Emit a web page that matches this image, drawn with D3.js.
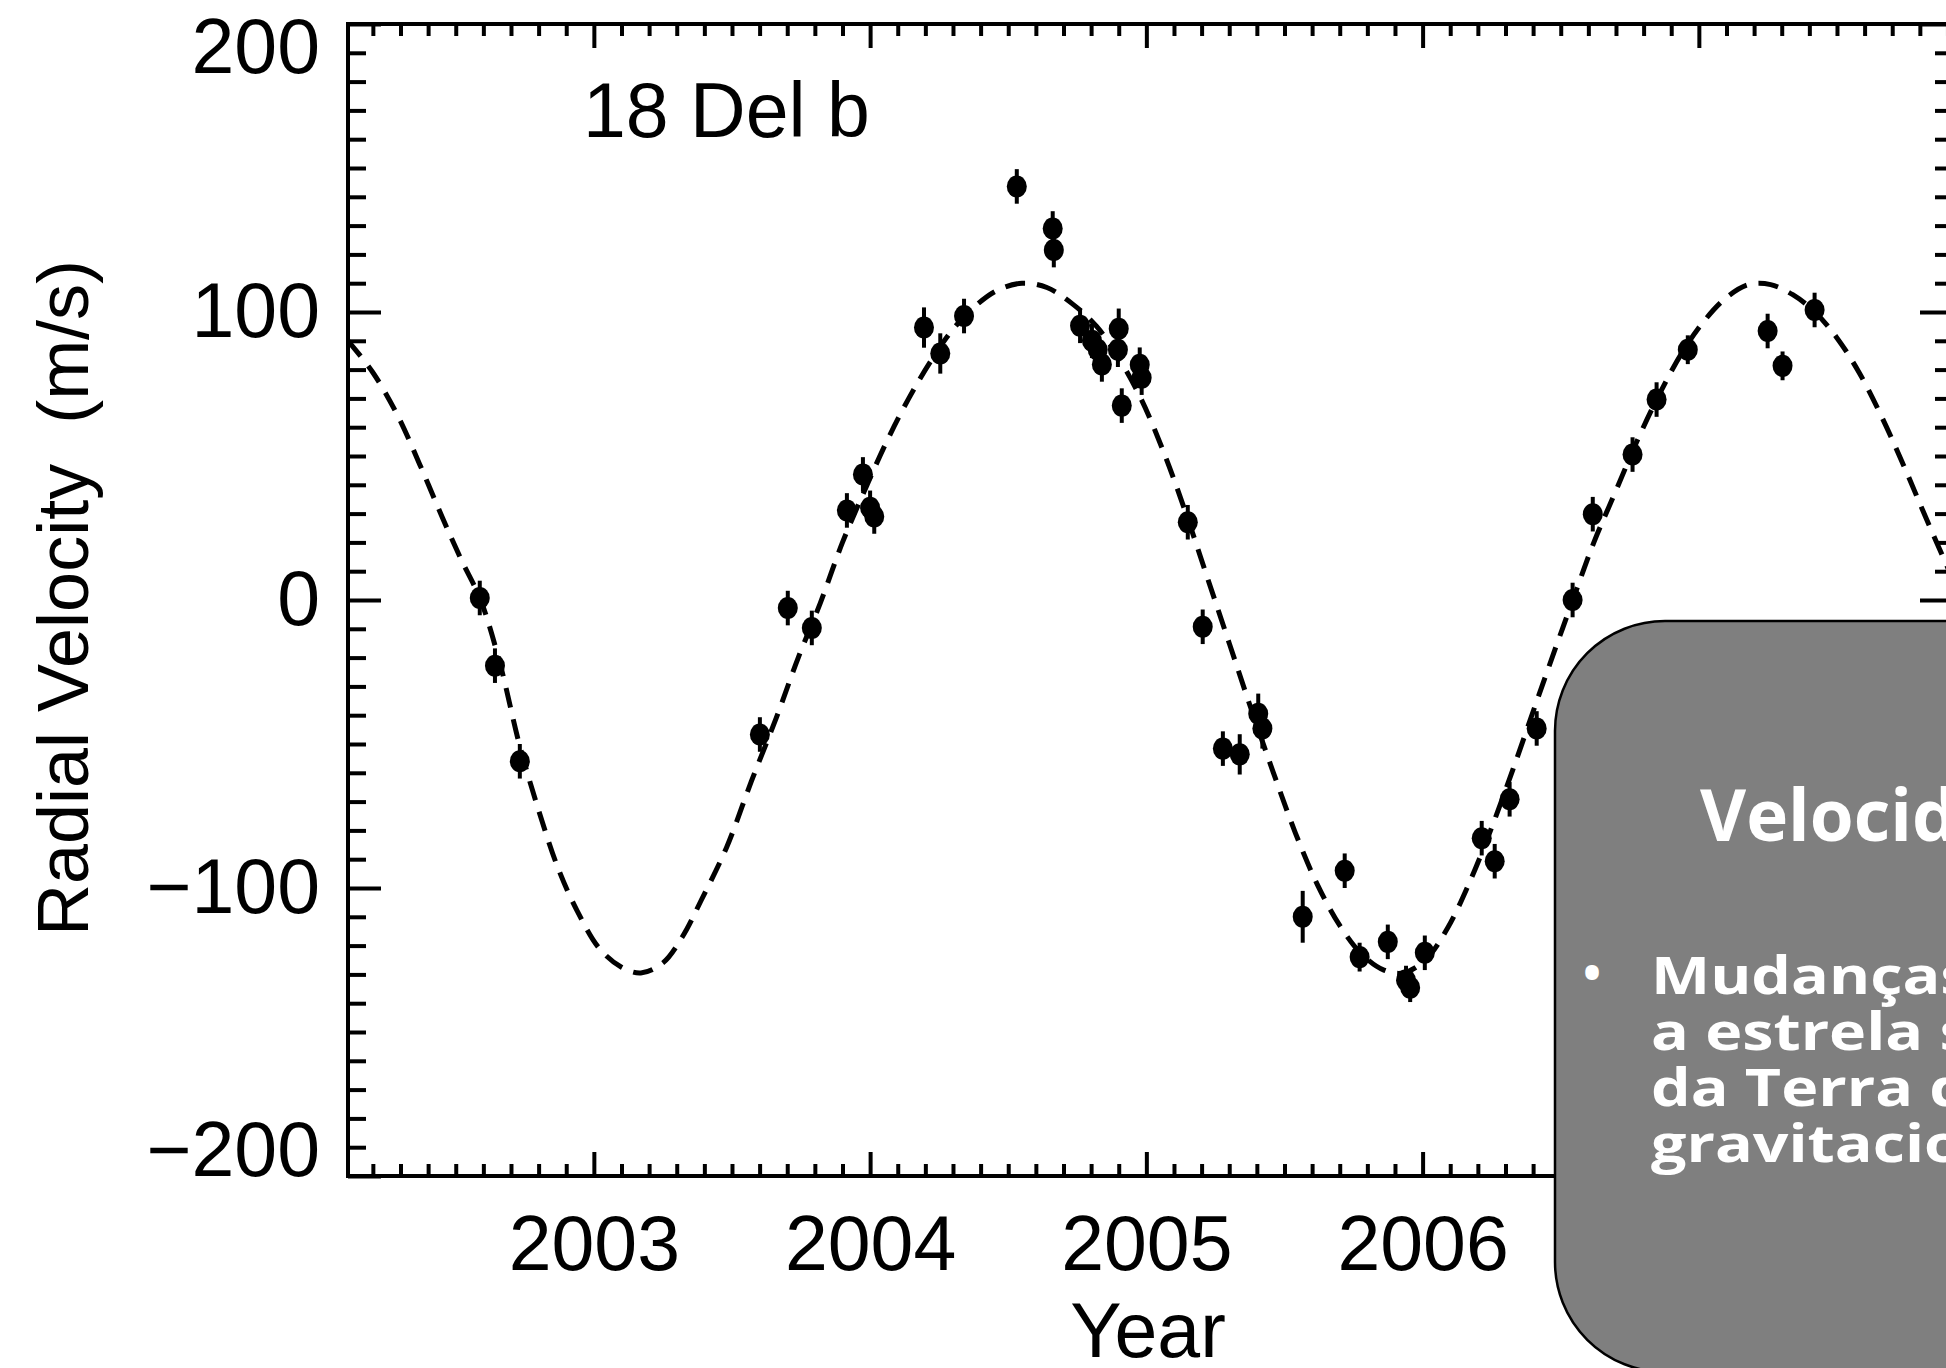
<!DOCTYPE html>
<html>
<head>
<meta charset="utf-8">
<script src="https://cdn.jsdelivr.net/npm/d3@7"></script>
<style>
  body { margin: 0; background: #fff; overflow: hidden; }
  svg { display: block; background: #fff; }
</style>
</head>
<body>
<svg width="1946" height="1368"></svg>
<script>
// measured radial velocities (m/s) of 18 Del
const years = [
  2002.587, 2002.642, 2002.732, 2003.601, 2003.702, 2003.789, 2003.916, 2003.974,
  2004.000, 2004.015, 2004.195, 2004.254, 2004.340, 2004.531, 2004.661, 2004.665,
  2004.760, 2004.803, 2004.824, 2004.839, 2004.900, 2004.897, 2004.911, 2004.976,
  2004.983, 2005.150, 2005.204, 2005.277, 2005.338, 2005.405, 2005.420, 2005.566,
  2005.718, 2005.772, 2005.874, 2005.940, 2005.955, 2006.008, 2006.214, 2006.261,
  2006.315, 2006.413, 2006.543, 2006.616, 2006.760, 2006.847, 2006.960, 2007.249,
  2007.303, 2007.419
];
const velocities = [
  0.7, -22.8, -56, -46.7, -2.8, -9.7, 31.1, 43.6,
  32, 29, 94.6, 85.6, 98.6, 143.6, 129, 121.5,
  95.2, 90, 86.9, 81.8, 94.2, 86.9, 67.5, 81.7,
  77.2, 27, -9.3, -51.6, -53.6, -39.5, -44.6, -110,
  -94, -124, -118.7, -132, -134.6, -122.5, -82.7, -90.7,
  -69.2, -44.6, 0, 29.8, 50.5, 69.6, 86.9, 93.4,
  81.3, 100.7
];
const errors = [
  6, 6, 6, 6, 6, 6, 6, 6,
  6, 6, 7, 7, 6, 6, 6, 6,
  6, 6, 6, 6, 7, 6, 6, 6,
  6, 6, 6, 6, 7, 7, 7, 9,
  6, 5, 6, 5, 5, 6, 6, 6,
  6, 6, 6, 6, 6, 6, 5, 6,
  5, 6
];

// orbital fit (dashed)
const fitYears = [
  2002.11, 2002.20, 2002.29, 2002.37, 2002.45, 2002.52, 2002.59, 2002.66,
  2002.73, 2002.80, 2002.87, 2002.94, 2003.02, 2003.10, 2003.17, 2003.25,
  2003.32, 2003.39, 2003.48, 2003.57, 2003.66, 2003.74, 2003.82, 2003.90,
  2003.98, 2004.06, 2004.14, 2004.22, 2004.30, 2004.38, 2004.46, 2004.55,
  2004.64, 2004.73, 2004.82, 2004.90, 2004.98, 2005.06, 2005.14, 2005.22,
  2005.30, 2005.38, 2005.46, 2005.54, 2005.62, 2005.70, 2005.78, 2005.86,
  2005.93, 2006.01, 2006.09, 2006.17, 2006.25, 2006.33, 2006.41, 2006.48,
  2006.54, 2006.62, 2006.70, 2006.78, 2006.86, 2006.94, 2007.02, 2007.10,
  2007.18, 2007.26, 2007.34, 2007.42, 2007.50, 2007.58, 2007.66, 2007.74,
  2007.82, 2007.92
];
const fitVelocities = [
  90, 79, 64, 47, 29, 14, 0, -22,
  -50, -73, -93, -108, -121, -127.5, -129.5, -126,
  -117, -104, -86, -63, -41, -20, -1, 20,
  38, 55, 70, 83, 94, 102, 107.5, 110,
  108.5, 103, 95, 84, 70, 52, 31, 8,
  -15, -38, -60, -81, -99, -113, -123, -128.5,
  -129.5, -125, -114, -98, -79, -58, -36, -17,
  -1, 20, 38, 56, 72, 86, 97, 105,
  109.5, 109.5, 106, 100, 91, 79, 64, 47,
  29, 7
];

const yearTicks = [2003, 2004, 2005, 2006, 2007];
const velocityTicks = [-200, -100, 0, 100, 200];
const planetName = "18 Del b";
const xTitle = "Year";
const yTitle = "Radial Velocity  (m/s)";
const boxTitle = "Velocidade Radial";
const boxLines = ["Mudanças na velocidade", "a estrela se afasta", "da Terra devido", "gravitacional"];

const chartFont = "'Liberation Sans', Arial, Helvetica, sans-serif";
const slideFont = "'Open Sans', 'Noto Sans', sans-serif";

const frame = { left: 348, right: 1953, top: 24, bottom: 1176 };

const x = d3.scaleLinear().domain([2002.11, 2007.92]).range([frame.left, frame.right]);
const y = d3.scaleLinear().domain([-200, 200]).range([frame.bottom, frame.top]);

const minorYears = d3.range(22, 80).map(i => 2000 + i / 10).filter(v => Math.abs(v - Math.round(v)) > 0.01);
const minorVelocities = d3.range(-190, 200, 10).filter(v => v % 100 !== 0);

const svg = d3.select("svg");

svg.append("defs")
  .append("clipPath")
  .attr("id", "plot")
  .append("rect")
  .attr("x", frame.left)
  .attr("y", frame.top)
  .attr("width", frame.right - frame.left)
  .attr("height", frame.bottom - frame.top);

// ticks on all four sides, pointing inward
const addAxis = (axis, translate) => {
  const g = svg.append("g")
    .attr("transform", translate)
    .call(axis)
    .attr("font-family", chartFont)
    .attr("font-size", 77);
  g.select(".domain").remove();
  g.selectAll(".tick line").attr("stroke", "#000").attr("stroke-width", 4);
  g.selectAll(".tick text").attr("fill", "#000");
  return g;
};

const noLabel = () => "";

addAxis(d3.axisBottom(x).tickValues(minorYears).tickSize(-12).tickFormat(noLabel), `translate(0,${frame.bottom})`);
addAxis(d3.axisTop(x).tickValues(minorYears).tickSize(-12).tickFormat(noLabel), `translate(0,${frame.top})`);
addAxis(d3.axisTop(x).tickValues(yearTicks).tickSize(-24).tickFormat(noLabel), `translate(0,${frame.top})`);
addAxis(d3.axisLeft(y).tickValues(minorVelocities).tickSize(-18).tickFormat(noLabel), `translate(${frame.left},0)`);
addAxis(d3.axisRight(y).tickValues(minorVelocities).tickSize(-18).tickFormat(noLabel), `translate(${frame.right},0)`);
addAxis(d3.axisRight(y).tickValues(velocityTicks).tickSize(-33).tickFormat(noLabel), `translate(${frame.right},0)`);

addAxis(
  d3.axisBottom(x).tickValues(yearTicks).tickSize(-24).tickPadding(39).tickFormat(d3.format("d")),
  `translate(0,${frame.bottom})`
);

const yAxis = addAxis(
  d3.axisLeft(y).tickValues(velocityTicks).tickSize(-33).tickPadding(28).tickFormat(d3.format("d")),
  `translate(${frame.left},0)`
);
yAxis.selectAll(".tick text")
  .attr("y", d => (d === 200 ? 24 : d === -200 ? -25 : 0));

svg.append("rect")
  .attr("x", frame.left)
  .attr("y", frame.top)
  .attr("width", frame.right - frame.left)
  .attr("height", frame.bottom - frame.top)
  .attr("fill", "none")
  .attr("stroke", "#000")
  .attr("stroke-width", 4);

const fit = fitYears.map((yr, i) => [yr, fitVelocities[i]]);

svg.append("path")
  .datum(fit)
  .attr("clip-path", "url(#plot)")
  .attr("fill", "none")
  .attr("stroke", "#000")
  .attr("stroke-width", 5)
  .attr("stroke-dasharray", "20,12")
  .attr("d", d3.line().x(d => x(d[0])).y(d => y(d[1])).curve(d3.curveCatmullRom));

const points = years.map((yr, i) => ({ year: yr, rv: velocities[i], err: errors[i] }));

const marks = svg.append("g").selectAll("g").data(points).enter().append("g");

marks.append("line")
  .attr("x1", d => x(d.year))
  .attr("x2", d => x(d.year))
  .attr("y1", d => y(d.rv + d.err))
  .attr("y2", d => y(d.rv - d.err))
  .attr("stroke", "#000")
  .attr("stroke-width", 4);

marks.append("ellipse")
  .attr("cx", d => x(d.year))
  .attr("cy", d => y(d.rv))
  .attr("rx", 10)
  .attr("ry", 11)
  .attr("fill", "#000");

svg.append("text")
  .attr("x", 583)
  .attr("y", 137)
  .attr("font-family", chartFont)
  .attr("font-size", 77)
  .text(planetName);

svg.append("text")
  .attr("x", 1148)
  .attr("y", 1357)
  .attr("text-anchor", "middle")
  .attr("font-family", chartFont)
  .attr("font-size", 77)
  .text(xTitle);

svg.append("text")
  .attr("transform", "translate(88,598) rotate(-90)")
  .attr("text-anchor", "middle")
  .attr("font-family", chartFont)
  .attr("font-size", 72)
  .style("white-space", "pre")
  .text(yTitle);

// slide call-out box drawn over the chart
svg.append("rect")
  .attr("x", 1555)
  .attr("y", 621)
  .attr("width", 700)
  .attr("height", 751)
  .attr("rx", 110)
  .attr("fill", "#7f7f7f")
  .attr("stroke", "#000")
  .attr("stroke-width", 2.5);

svg.append("text")
  .attr("x", 1700)
  .attr("y", 841)
  .attr("font-family", slideFont)
  .attr("font-weight", 700)
  .attr("font-size", 71)
  .attr("fill", "#fff")
  .text(boxTitle);

svg.append("text")
  .attr("x", 1583)
  .attr("y", 990)
  .attr("font-family", slideFont)
  .attr("font-weight", 700)
  .attr("font-size", 48)
  .attr("fill", "#fff")
  .text("•");

svg.append("g")
  .selectAll("text")
  .data(boxLines)
  .enter()
  .append("text")
  .attr("transform", (d, i) => `translate(1651,${994 + i * 56}) scale(1.23,1)`)
  .attr("font-family", slideFont)
  .attr("font-weight", 700)
  .attr("font-size", 51)
  .attr("fill", "#fff")
  .text(d => d);
</script>
</body>
</html>
